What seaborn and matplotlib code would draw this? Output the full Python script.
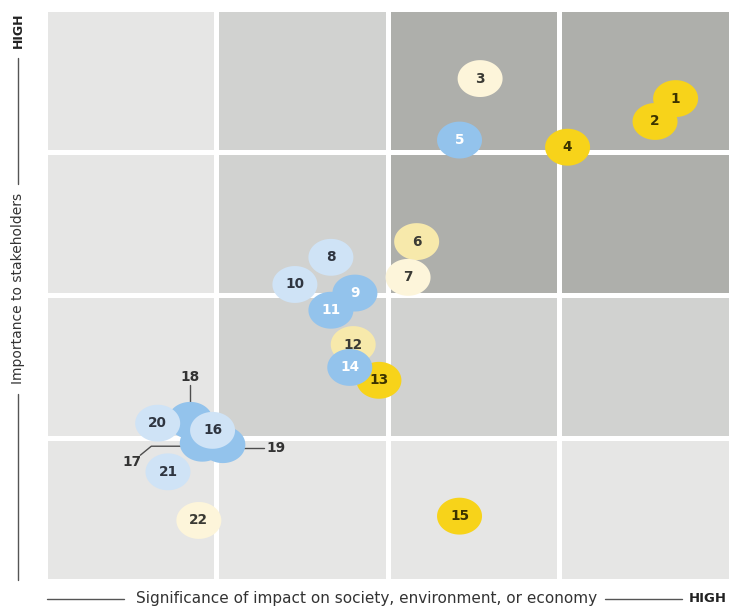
import numpy as np
import pandas as pd
import seaborn as sns
import matplotlib
matplotlib.use("Agg")
import matplotlib.pyplot as plt
from matplotlib.colors import ListedColormap
from matplotlib.lines import Line2D
from matplotlib.path import Path
from matplotlib.transforms import Affine2D

# ---- data -------------------------------------------------------------
topics = [str(i) for i in range(1, 23)]
significance = [3.68, 3.56, 2.54, 3.05, 2.42, 2.17, 2.12, 1.67, 1.81, 1.46, 1.67,
                1.80, 1.95, 1.78, 2.42, 0.98, 0.92, 0.85, 1.04, 0.66, 0.72, 0.90]
importance = [3.37, 3.21, 3.51, 3.03, 3.08, 2.37, 2.12, 2.26, 2.01, 2.07, 1.89,
              1.65, 1.40, 1.49, 0.45, 1.05, 0.96, 1.12, 0.95, 1.10, 0.76, 0.42]
group = ["core", "core", "pale", "core", "blue", "soft", "pale", "sky", "blue",
         "sky", "blue", "soft", "core", "blue", "core", "sky", "blue", "blue",
         "blue", "sky", "sky", "pale"]
# stacking order of the bubbles (later ones sit on top)
draw_order = ["1", "2", "3", "4", "5", "6", "7", "8", "10", "11", "9", "12", "13",
              "14", "15", "17", "18", "19", "20", "16", "21", "22"]

# background shading of the 4x4 grid, bottom row first (0 light .. 2 dark)
grid_levels = [[0, 0, 0, 0],
               [0, 1, 1, 1],
               [0, 1, 2, 2],
               [0, 1, 2, 2]]

x_label = "Significance of impact on society, environment, or economy"
y_label = "Importance to stakeholders"
high_label = "HIGH"

# ---- styling ----------------------------------------------------------
shades = ["#e6e6e5", "#d1d2d0", "#aeafab"]
palette = {"core": "#f7d31a", "soft": "#f7e9ab", "pale": "#fdf5da",
           "sky": "#cfe3f6", "blue": "#93c3ec"}
text_color = {"core": "#3b3300", "soft": "#3a3a34", "pale": "#3a3a34",
              "sky": "#2f3540", "blue": "#ffffff"}
ink = "#333333"

W, H = 730, 612
sns.set_theme(style="white")
plt.rcParams["font.family"] = ["DejaVu Sans"]

fig = plt.figure(figsize=(W / 100, H / 100), dpi=100)
fig.patch.set_facecolor("white")
ax = fig.add_axes([44.5 / W, 1 - 580.5 / H, 686 / W, 572 / H])

sns.heatmap(np.array(grid_levels), cmap=ListedColormap(shades), vmin=-0.5, vmax=2.5,
            cbar=False, linewidths=3.6, linecolor="white", ax=ax)
ax.set_xlim(0, 4)
ax.set_ylim(0, 4)
ax.set_xticks([])
ax.set_yticks([])
ax.set_xlabel("")
ax.set_ylabel("")
for s in ax.spines.values():
    s.set_visible(False)

df = pd.DataFrame({"topic": topics, "significance": significance,
                   "importance": importance, "group": group})
df = df.set_index("topic").loc[draw_order].reset_index()

# slightly wide elliptical bubble marker
t = np.linspace(0, 2 * np.pi, 73)
ellipse = Path(np.column_stack([np.cos(t), 0.82 * np.sin(t)]), closed=True)

sns.scatterplot(data=df, x="significance", y="importance", hue="group",
                palette=palette, marker=ellipse, s=1050, linewidth=0,
                edgecolor="none", legend=False, ax=ax, zorder=3)

# leader lines for the crowded cluster (offsets in pixels from the bubble)
leaders = {
    "18": ([(0, 18), (0, 35)], (0, 43), "center"),
    "19": ([(20, -3), (41, -3)], (44, -3), "left"),
    "17": ([(-18, -3), (-51, -3), (-62, -12)], (-70, -19), "center"),
}

for _, r in df.iterrows():
    if r["topic"] in leaders:
        continue
    ax.text(r["significance"], r["importance"], r["topic"], ha="center",
            va="center", fontsize=9.8, fontweight="bold",
            color=text_color[r["group"]], zorder=4)

lookup = df.set_index("topic")
for key, (pts, lab, ha) in leaders.items():
    anchor = ax.transData.transform((lookup.loc[key, "significance"],
                                     lookup.loc[key, "importance"]))
    tr = Affine2D().translate(*anchor)
    xs, ys = zip(*pts)
    ax.add_line(Line2D(xs, ys, transform=tr, color="#4d4d4d", lw=1.0,
                       zorder=2.5, clip_on=False))
    ax.text(lab[0], lab[1], key, transform=tr, ha=ha, va="center",
            fontsize=9.8, fontweight="bold", color=ink, zorder=4, clip_on=False)

# ---- axis captions with rules --------------------------------------------
def fx(px):
    return px / W

def fy(py):
    return 1 - py / H

label_font = ["DejaVu Sans"]
bottom_txt = fig.text(fx(136), fy(599), x_label, ha="left", va="center",
                      fontsize=11, family=label_font, color=ink)
bottom_high = fig.text(fx(727), fy(599), high_label, ha="right", va="center",
                       fontsize=9.5, family=label_font, fontweight="bold", color="#222222")
left_txt = fig.text(fx(18), fy(288), y_label, ha="center", va="center",
                    rotation=90, fontsize=10, family=label_font, color=ink)
left_high = fig.text(fx(18), fy(12), high_label, ha="center", va="top",
                     rotation=90, fontsize=9, family=label_font, fontweight="bold",
                     color="#222222")

fig.canvas.draw()
renderer = fig.canvas.get_renderer()

def ext(txt):
    return txt.get_window_extent(renderer)

rule = dict(color="#555555", lw=1.0, transform=None)
bt, bh = ext(bottom_txt), ext(bottom_high)
yb = H - 599
fig.add_artist(Line2D([47, bt.x0 - 12], [yb, yb], **rule))
fig.add_artist(Line2D([bt.x1 + 8, bh.x0 - 7], [yb, yb], **rule))
lt, lh = ext(left_txt), ext(left_high)
xl = 18
fig.add_artist(Line2D([xl, xl], [lh.y0 - 10, lt.y1 + 8], **rule))
fig.add_artist(Line2D([xl, xl], [lt.y0 - 10, H - 580], **rule))

fig.savefig("out.png", dpi=100, facecolor="white")
